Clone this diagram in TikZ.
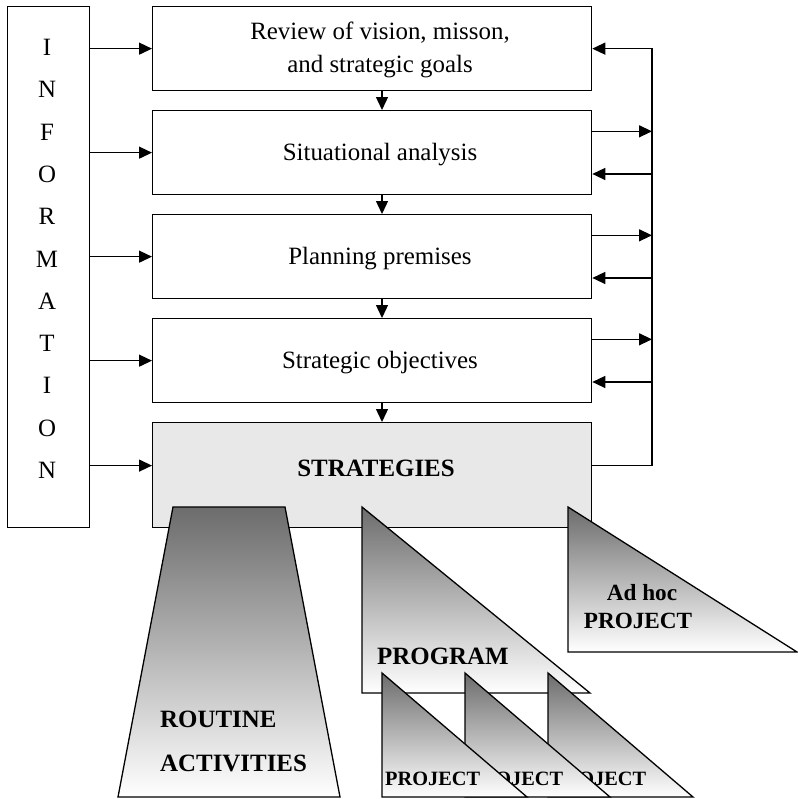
\documentclass[tikz,border=0pt]{standalone}
\usepackage{fontspec}
\setmainfont{Liberation Serif}
\usetikzlibrary{arrows.meta,calc}
\definecolor{shadetop}{RGB}{108,108,108}
\definecolor{stratfill}{RGB}{232,232,232}
\tikzset{
  stepbox/.style={draw, line width=1.3bp, minimum width=439bp, minimum height=84bp,
    inner sep=0, anchor=north west},
  lbl/.style={inner sep=0, anchor=base, font=\fontsize{25}{30}\selectfont},
  blbl/.style={inner sep=0, anchor=base, font=\fontsize{25}{30}\selectfont\bfseries},
  arr/.style={line width=1.3bp, -{Triangle[length=13bp,width=12bp]}},
  shaded/.style={draw, line width=1.3bp, top color=shadetop, bottom color=white},
}
\begin{document}
\begin{tikzpicture}[x=1bp,y=-1bp]
\useasboundingbox (0,0) rectangle (798,799);

% information column
\node[draw, line width=1.3bp, minimum width=82bp, minimum height=521bp,
      anchor=north west, inner sep=0] (info) at (7,6) {};
\foreach \ch [count=\i from 0] in {I,N,F,O,R,M,A,T,I,O,N}
  \node[lbl] (info\i) at (47,{55.5+42.3*\i}) {\ch};

% planning steps
\node[stepbox] (b1) at (152,6) {};
\node[stepbox] (b2) at (152,110) {};
\node[stepbox] (b3) at (152,214) {};
\node[stepbox] (b4) at (152,318) {};
\node[stepbox, fill=stratfill, minimum height=105bp] (b5) at (152,422) {};

\node[lbl] (t1a) at (380,40) {Review of vision, misson,};
\node[lbl] (t1b) at (380,73) {and strategic goals};
\node[lbl] (t2) at (380,160) {Situational analysis};
\node[lbl] (t3) at (380,264) {Planning premises};
\node[lbl] (t4) at (380,368) {Strategic objectives};
\node[blbl] (t5) at (376,476) {STRATEGIES};

% helper coordinates
\coordinate (busx) at (652,0);
\coordinate (dx) at (382,0);

% information feeds
\foreach \b in {b1,b2,b3,b4}
  \draw[arr] (info.east |- \b.west) -- (\b.west);
\coordinate (ib5) at ($(b5.north west)!0.41!(b5.south west)$);
\draw[arr] (info.east |- ib5) -- (ib5);

% sequence between steps
\foreach \a/\b in {b1/b2,b2/b3,b3/b4,b4/b5}
  \draw[arr] (\a.south -| dx) -- (\b.north -| dx);

% feedback loop
\foreach \b in {b2,b3,b4}{
  \coordinate (o\b) at ($(\b.north east)!0.25!(\b.south east)$);
  \coordinate (i\b) at ($(\b.north east)!0.75!(\b.south east)$);
  \draw[arr] (o\b) -- (o\b -| busx);
  \draw[arr] (i\b -| busx) -- (i\b);
}
\coordinate (ob5) at ($(b5.north east)!0.41!(b5.south east)$);
\draw[arr] (ob5) -| (b1.east -| busx) -- (b1.east);

% outcomes of the strategies
\draw[shaded] (173,507) -- (285,507) -- (340,797) -- (118,797) -- cycle;
\node[blbl, anchor=base west] (rt1) at (160,727) {ROUTINE};
\node[blbl, anchor=base west] (rt2) at (160,771) {ACTIVITIES};

\draw[shaded] (362,507) -- (362,693) -- (590,693) -- cycle;
\node[blbl, anchor=base west] (prog) at (377,664) {PROGRAM};

\draw[shaded] (568,507) -- (568,652) -- (797,652) -- cycle;
\node[blbl, font=\fontsize{23.3}{28}\selectfont\bfseries] (adh1) at (642,600) {Ad hoc};
\node[blbl, font=\fontsize{23.3}{28}\selectfont\bfseries] (adh2) at (638,628) {PROJECT};

\foreach \x [count=\k] in {548,465,382}{
  \draw[shaded] (\x,673) -- (\x,797) -- ({\x+145},797) -- cycle;
  \node[blbl, font=\fontsize{20.4}{24}\selectfont\bfseries, anchor=base west]
    (proj\k) at ({\x+3},785) {PROJECT};
}
\end{tikzpicture}
\end{document}
